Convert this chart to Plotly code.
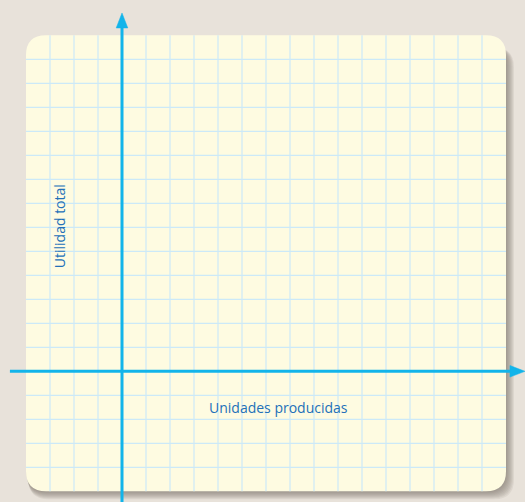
import numpy as np
import plotly.graph_objects as go

# Grid paper: one unit = one square of the grid
PX_PER_UNIT = 24
W, H = 525, 502
ORIGIN_PX = (122, 371.3)          # where the two axes cross, in pixels

# Extent of the card, in grid units
card_x = [-4, 16]
card_y = [-5, 14]

# Axis labels
x_title = "Unidades producidas"
y_title = "Utilidad total"

# Extent of the drawn axes (units)
x_axis_span = [-4.67, 16.79]
y_axis_span = [-5.45, 14.93]

BG = "#e8e2da"
CARD = "#fefbe1"
GRID = "#cce9f8"
AXIS = "#12b4ea"
TEXT = "#2270b9"

x_range = [-ORIGIN_PX[0] / PX_PER_UNIT, (W - ORIGIN_PX[0]) / PX_PER_UNIT]
y_range = [-(H - ORIGIN_PX[1]) / PX_PER_UNIT, ORIGIN_PX[1] / PX_PER_UNIT]


def rounded_rect(x0, x1, y0, y1, r):
    return (f"M {x0 + r},{y0} L {x1 - r},{y0} Q {x1},{y0} {x1},{y0 + r} "
            f"L {x1},{y1 - r} Q {x1},{y1} {x1 - r},{y1} "
            f"L {x0 + r},{y1} Q {x0},{y1} {x0},{y1 - r} "
            f"L {x0},{y0 + r} Q {x0},{y0} {x0 + r},{y0} Z")


radius = 20 / PX_PER_UNIT
shapes = []
# soft drop shadow to the lower right
for i in range(1, 9):
    d = i / PX_PER_UNIT
    shapes.append(dict(
        type="path", layer="below", line=dict(width=0),
        fillcolor="rgba(120,110,100,0.10)",
        path=rounded_rect(card_x[0] + d * 0.3, card_x[1] + d,
                          card_y[0] - d, card_y[1] - d * 0.3 - 0.4, radius)))
# the card
shapes.append(dict(type="path", layer="below", line=dict(width=0),
                   fillcolor=CARD,
                   path=rounded_rect(card_x[0], card_x[1], card_y[0], card_y[1], radius)))

fig = go.Figure()

# grid lines inside the card
gx, gy = [], []
for v in np.arange(card_x[0] + 1, card_x[1]):
    gx += [v, v, None]
    gy += [card_y[0], card_y[1], None]
for v in np.arange(card_y[0] + 1, card_y[1]):
    gx += [card_x[0], card_x[1], None]
    gy += [v, v, None]
fig.add_trace(go.Scatter(x=gx, y=gy, mode="lines",
                         line=dict(color=GRID, width=1.2), hoverinfo="skip"))

# axes
head_len = 15 / PX_PER_UNIT
head_half = 5.8 / PX_PER_UNIT
fig.add_trace(go.Scatter(x=[x_axis_span[0], x_axis_span[1] - head_len], y=[0, 0],
                         mode="lines", line=dict(color=AXIS, width=3), hoverinfo="skip"))
fig.add_trace(go.Scatter(x=[0, 0], y=[y_axis_span[0], y_axis_span[1] - head_len],
                         mode="lines", line=dict(color=AXIS, width=3), hoverinfo="skip"))
# arrowheads
xt = x_axis_span[1]
fig.add_trace(go.Scatter(x=[xt, xt - head_len, xt - head_len, xt],
                         y=[0, head_half, -head_half, 0],
                         mode="lines", fill="toself", fillcolor=AXIS,
                         line=dict(color=AXIS, width=0.5), hoverinfo="skip"))
yt = y_axis_span[1]
fig.add_trace(go.Scatter(x=[0, head_half, -head_half, 0],
                         y=[yt, yt - head_len, yt - head_len, yt],
                         mode="lines", fill="toself", fillcolor=AXIS,
                         line=dict(color=AXIS, width=0.5), hoverinfo="skip"))

annotations = [
    dict(x=6.52, y=-1.49, text=x_title, showarrow=False,
         font=dict(family="Open Sans", size=14, color=TEXT)),
    dict(x=-2.62, y=6.05, text=y_title, showarrow=False, textangle=-90,
         font=dict(family="Open Sans", size=14, color=TEXT)),
]

fig.update_layout(
    width=W, height=H, margin=dict(l=0, r=0, t=0, b=0),
    paper_bgcolor=BG, plot_bgcolor=BG, showlegend=False,
    xaxis=dict(range=x_range, visible=False, fixedrange=True),
    yaxis=dict(range=y_range, visible=False, fixedrange=True),
    shapes=shapes, annotations=annotations,
)

fig.write_html("out.html")
